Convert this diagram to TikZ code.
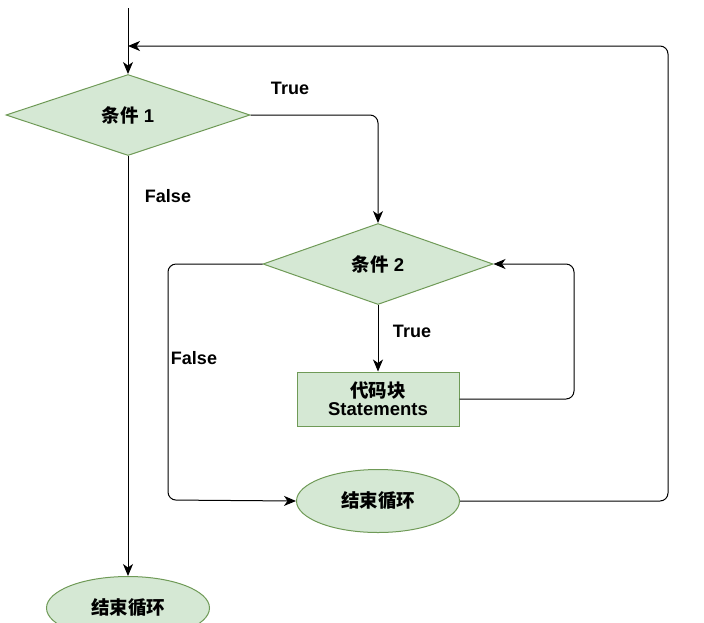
\documentclass[tikz,border=0pt]{standalone}
\usepackage{fontspec}
\setmainfont{Liberation Sans}
\newfontfamily\cjk{Noto Sans CJK SC}
\usetikzlibrary{shapes.geometric,arrows.meta}
\definecolor{gfill}{HTML}{D5E8D4}
\definecolor{gdraw}{HTML}{6F9A57}
\newcommand{\latn}[1]{{\rmfamily\fontsize{18.5}{21}\selectfont #1}}
\tikzset{
  base/.style={fill=gfill,draw=gdraw,line width=1pt,inner sep=0pt,align=center,font=\fontsize{18.5}{21}\selectfont\bfseries\cjk},
  dia/.style={base,diamond,minimum width=244pt,minimum height=81pt},
  dia2/.style={base,diamond,minimum width=230pt,minimum height=81pt},
  box/.style={base,rectangle,minimum width=162pt,minimum height=54pt},
  oval/.style={base,ellipse,minimum width=163pt,minimum height=63pt},
  arr/.style={draw=black,line width=1pt,rounded corners=8pt,-{Stealth[length=12pt,width=10pt,inset=3.5pt]}},
  lbl/.style={font=\fontsize{18}{21}\selectfont\bfseries,inner sep=0pt}
}
\begin{document}
\begin{tikzpicture}[x=1pt,y=-1pt]
\useasboundingbox (0,0) rectangle (704,622);
\node[dia] (d1) at (128,115) {条件\latn{ 1}};
\node[dia2] (d2) at (378,264) {条件\latn{ 2}};
\node[box] (r) at (378,399) {代码块\\[-3pt]\latn{Statements}};
\node[oval] (e1) at (378,501) {结束循环};
\node[oval] (e2) at (128,608) {结束循环};
\coordinate (top) at (128,8);
\coordinate (j) at (128,46);
\coordinate (k1) at (574,264);
\coordinate (k2) at (168,500);
\coordinate (k3) at (668,46);
\draw[arr] (top) -- (d1.north);
\draw[arr] (d1.east) -| (d2.north);
\draw[arr] (d1.south) -- (e2.north);
\draw[arr] (d2.south) -- (r.north);
\draw[arr] (r.east) -| (k1) -- (d2.east);
\draw[arr] (d2.west) -| (k2) -- (e1.west);
\draw[arr] (e1.east) -| (k3) -- (j);
\node[lbl] (t1) at (290,88) {True};
\node[lbl] (f1) at (168,196) {False};
\node[lbl] (t2) at (412,331) {True};
\node[lbl] (f2) at (194,358) {False};
\end{tikzpicture}
\end{document}
